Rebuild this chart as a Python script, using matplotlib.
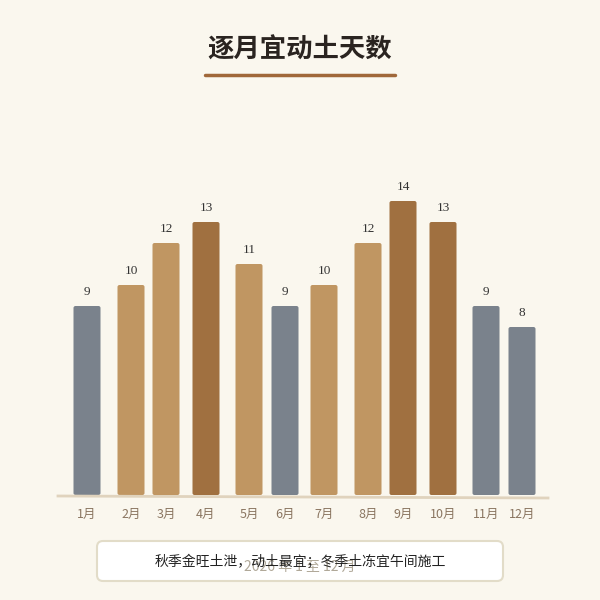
import matplotlib
matplotlib.use("Agg")
import matplotlib.pyplot as plt
from matplotlib.patches import FancyBboxPatch

months = ["1月","2月","3月","4月","5月","6月","7月","8月","9月","10月","11月","12月"]
values = [9,10,12,13,11,9,10,12,14,13,9,8]
kinds = ["w","s","s","a","s","w","s","s","a","a","w","w"]
pos = [87,131,166,206,249,285,324,368,403,443,486,522]
cmap = {"w":"#7a828c","s":"#c09662","a":"#a07040"}

plt.rcParams['font.family'] = ['Noto Sans CJK SC','DejaVu Sans']
fig = plt.figure(figsize=(6,6), dpi=100, facecolor="#faf7ee")
ax = fig.add_axes([0,0,1,1])
ax.set_xlim(0,600); ax.set_ylim(600,0); ax.axis('off')
ax.set_facecolor("#faf7ee")

base = 495; scale = 21.0
for m,v,k,x in zip(months,values,kinds,pos):
    h = v*scale
    ax.add_patch(FancyBboxPatch((x-13.5, base-h), 27, h, boxstyle="round,pad=0,rounding_size=2",
                                fc=cmap[k], ec="none"))
    ax.text(x, base-h-8, str(v), ha='center', va='bottom', fontsize=9.5,
            family=['Liberation Serif','DejaVu Serif'], color="#333")
    ax.text(x, 514, m, ha='center', va='center', fontsize=9, color="#8a7560")
ax.plot([58,548],[496,498], color="#e0d3bd", lw=2)

ax.text(300, 50, "逐月宜动土天数", ha='center', va='center', fontsize=19, fontweight='bold', color="#2a2420")
ax.plot([205,395],[75,75], color="#a0683a", lw=2.5, solid_capstyle='round')

ax.add_patch(FancyBboxPatch((97,541), 406, 40, boxstyle="round,pad=0,rounding_size=6",
                            fc="white", ec="#e2dcc8", lw=1.5))
ax.text(300, 567, "2026 年 1 至 12 月", ha='center', va='center', fontsize=10, color="#b0a898")
ax.text(300, 562, "秋季金旺土泄，动土最宜；冬季土冻宜午间施工", ha='center', va='center', fontsize=10, color="#222")
fig.savefig("out.png", dpi=100, facecolor=fig.get_facecolor())
